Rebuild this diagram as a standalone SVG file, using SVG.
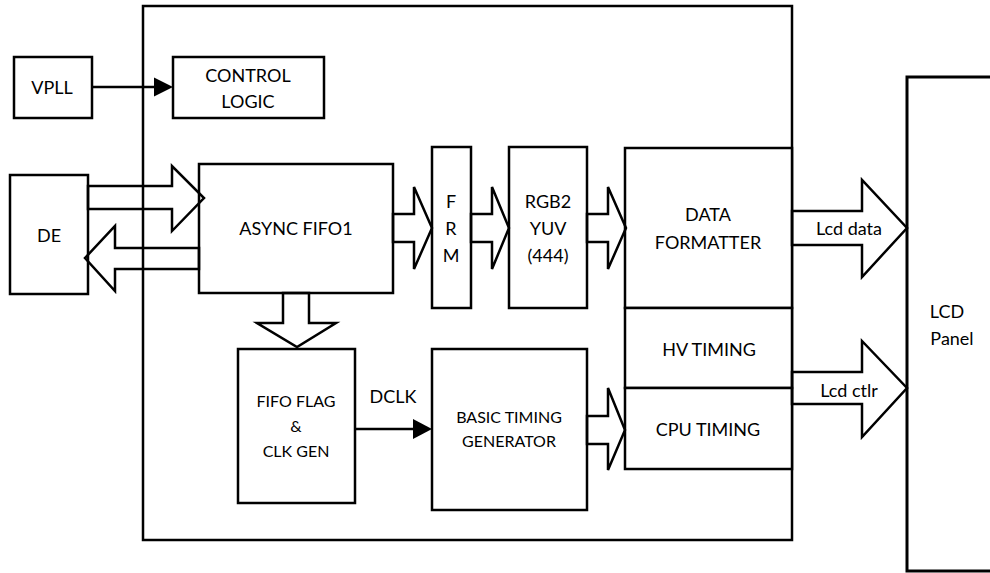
<svg xmlns="http://www.w3.org/2000/svg" width="990" height="573" viewBox="0 0 990 573">
<style>
.box{fill:#fff;stroke:#000;stroke-width:2.5}
.frame{fill:none;stroke:#000;stroke-width:2.5}
.fat{fill:none;stroke:#000;stroke-width:2.5;stroke-linejoin:miter}
.ln{fill:none;stroke:#000;stroke-width:2.5}
.hd{fill:#000;stroke:none}
text{font-family:Lato,"Open Sans","Liberation Sans",sans-serif;font-size:18px;fill:#000;text-anchor:middle}
.sm{font-size:16px}
</style>
<rect width="990" height="573" fill="#fff"/>
<g id="outer-frame"><rect class="frame" x="143" y="6" width="649" height="534"/></g>
<g id="vpll"><rect class="box" x="14" y="57" width="78" height="61"/><text x="52" y="94">VPLL</text></g>
<g id="control-logic"><rect class="box" x="173" y="57" width="151" height="61"/><text x="248" y="82">CONTROL</text><text x="248" y="108">LOGIC</text></g>
<g id="de"><rect class="box" x="10" y="175" width="78" height="119"/><text x="49" y="242">DE</text></g>
<g id="async-fifo1"><rect class="box" x="199" y="164" width="194" height="129"/><text x="296" y="235">ASYNC FIFO1</text></g>
<g id="frm"><rect class="box" x="432" y="147" width="39" height="161"/><text x="451" y="208">F</text><text x="451" y="235">R</text><text x="451" y="262">M</text></g>
<g id="rgb2yuv"><rect class="box" x="509" y="147" width="78" height="161"/><text x="548" y="208">RGB2</text><text x="548" y="235">YUV</text><text x="548" y="262">(444)</text></g>
<g id="data-formatter"><rect class="box" x="625" y="148" width="167" height="160"/><text x="708" y="221">DATA</text><text x="708" y="249">FORMATTER</text></g>
<g id="hv-timing"><rect class="box" x="625" y="308" width="167" height="80"/><text x="709" y="356">HV TIMING</text></g>
<g id="cpu-timing"><rect class="box" x="625" y="388" width="167" height="81"/><text x="708" y="436">CPU TIMING</text></g>
<g id="fifo-flag"><rect class="box" x="238" y="349" width="117" height="154"/><text class="sm" x="296" y="407">FIFO FLAG</text><text class="sm" x="296" y="432">&amp;</text><text class="sm" x="296" y="457">CLK GEN</text></g>
<g id="basic-timing"><rect class="box" x="432" y="349" width="155" height="161"/><text class="sm" x="509" y="423">BASIC TIMING</text><text class="sm" x="509" y="447">GENERATOR</text></g>
<g id="lcd-panel"><rect class="box" x="907" y="77" width="100" height="494" style="stroke-width:3"/><text x="947" y="318">LCD</text><text x="952" y="345">Panel</text></g>
<g id="connectors">
<line class="ln" x1="92" y1="87" x2="156" y2="87"/>
<polygon class="hd" points="154,77.5 173,87 154,96.5"/>
<polygon class="fat" points="88,186 172,186 172,166 204,198 172,231 172,209 88,209"/>
<polygon class="fat" points="199,248 115,248 115,226 85,258 115,291 115,269 199,269"/>
<polygon class="fat" points="393,214 414,214 414,187 432,228 414,269 414,242 393,242"/>
<polygon class="fat" points="471,214 492,214 492,187 509,228 492,269 492,242 471,242"/>
<polygon class="fat" points="587,214 608,214 608,187 626,228 608,269 608,242 587,242"/>
<polygon class="fat" points="283,293 283,323 257,323 297,347 336,323 309,323 309,293"/>
<line class="ln" x1="355" y1="429" x2="415" y2="429"/>
<polygon class="hd" points="413,419 432,429 413,439"/>
<text x="393" y="403">DCLK</text>
<polygon class="fat" points="587,416 608,416 608,388 625,430 608,470 608,444 587,444"/>
<polygon class="fat" points="792,211 862,211 862,180 907,228 862,277 862,245 792,245"/>
<text x="849" y="235">Lcd data</text>
<polygon class="fat" points="792,372 862,372 862,341 907,388 862,437 862,404 792,404"/>
<text x="849" y="397">Lcd ctlr</text>
</g>
</svg>
